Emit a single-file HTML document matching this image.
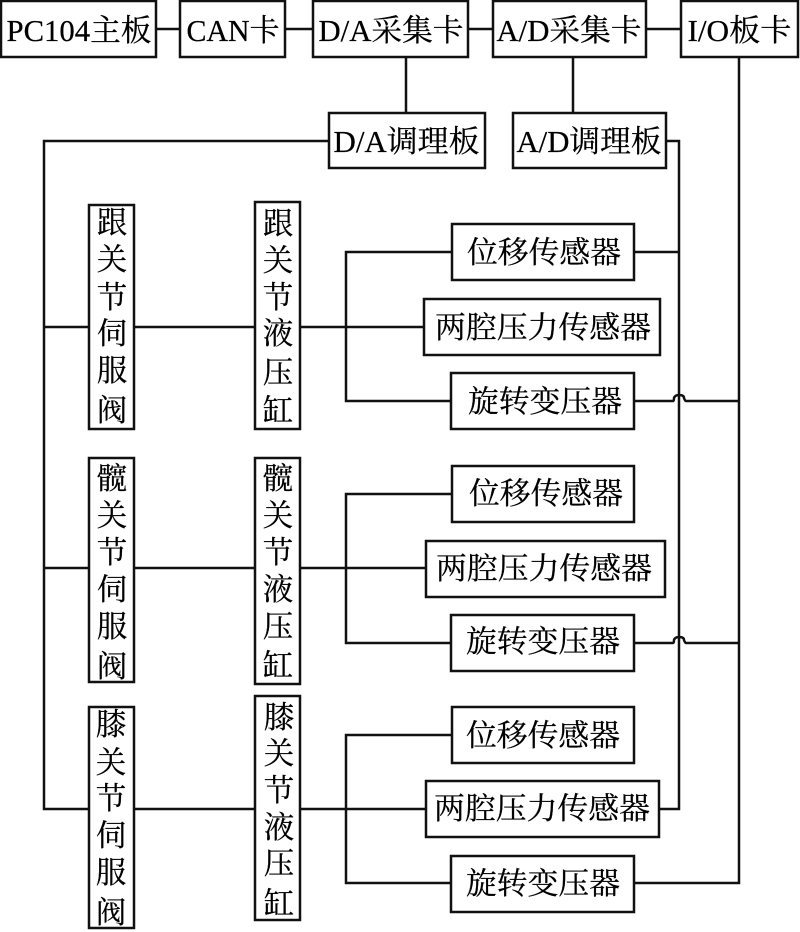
<!DOCTYPE html>
<html>
<head>
<meta charset="utf-8">
<style>
html,body{margin:0;padding:0;background:#fff;}
svg{display:block;}
text{font-family:"Liberation Serif","Noto Serif CJK SC",serif;font-size:30.5px;fill:#000;stroke:#000;stroke-width:.25;}
.c{text-anchor:middle;}
rect{fill:#fff;stroke:#111;stroke-width:2.5;}
.l{fill:none;stroke:#111;stroke-width:2.5;}
</style>
</head>
<body>
<svg width="800" height="932" viewBox="0 0 800 932" xmlns="http://www.w3.org/2000/svg">
<!-- connectors -->
<path class="l" d="M156 29H180M285 29H313M468 29H493M646 29H681"/>
<path class="l" d="M406 57V113M573 57V113"/>
<path class="l" d="M329 141H44V809H89M44 327H89M44 568H89"/>
<path class="l" d="M666 141H679V809H659M634 252H679"/>
<path class="l" d="M739 57V883H634"/>
<path class="l" d="M134 327H255M300 327H424M134 568H255M300 568H426M134 809H255M300 809H426"/>
<path class="l" d="M452 252H346V401H451M452 494H346V643H451M452 735H346V883H451"/>
<path class="l" d="M634 401H673Q674 401 674 398Q675 395 679 395Q684 395 684 398Q685 401 686 401H739"/>
<path class="l" d="M634 643H673Q674 643 674 640Q675 637 679 637Q684 637 684 640Q685 643 686 643H739"/>
<!-- top boxes -->
<rect x="1" y="1" width="155" height="56"/>
<rect x="180" y="1" width="105" height="56"/>
<rect x="313" y="1" width="155" height="56"/>
<rect x="493" y="1" width="153" height="56"/>
<rect x="681" y="1" width="117" height="56"/>
<rect x="329" y="113" width="156" height="55"/>
<rect x="513" y="113" width="153" height="55"/>
<text x="6.5" y="41" textLength="145" lengthAdjust="spacingAndGlyphs">PC104主板</text>
<text x="186.5" y="41" textLength="93" lengthAdjust="spacingAndGlyphs">CAN卡</text>
<text x="318.5" y="41" textLength="145" lengthAdjust="spacingAndGlyphs">D/A采集卡</text>
<text x="496.5" y="41" textLength="145" lengthAdjust="spacingAndGlyphs">A/D采集卡</text>
<text x="687.5" y="41" textLength="104" lengthAdjust="spacingAndGlyphs">I/O板卡</text>
<text x="333.5" y="152" textLength="146" lengthAdjust="spacingAndGlyphs">D/A调理板</text>
<text x="516.5" y="152" textLength="145" lengthAdjust="spacingAndGlyphs">A/D调理板</text>
<!-- sensors 1 -->
<rect x="452" y="224" width="182" height="56"/>
<rect x="424" y="299" width="236" height="56"/>
<rect x="451" y="373" width="183" height="56"/>
<text x="467" y="263" textLength="154" lengthAdjust="spacingAndGlyphs">位移传感器</text>
<text x="435" y="338" textLength="216" lengthAdjust="spacingAndGlyphs">两腔压力传感器</text>
<text x="468" y="412" textLength="154" lengthAdjust="spacingAndGlyphs">旋转变压器</text>
<!-- sensors 2 -->
<rect x="452" y="466" width="182" height="56"/>
<rect x="426" y="541" width="239" height="56"/>
<rect x="451" y="615" width="183" height="56"/>
<text x="469" y="504" textLength="154" lengthAdjust="spacingAndGlyphs">位移传感器</text>
<text x="436" y="579" textLength="216" lengthAdjust="spacingAndGlyphs">两腔压力传感器</text>
<text x="466" y="652" textLength="154" lengthAdjust="spacingAndGlyphs">旋转变压器</text>
<!-- sensors 3 -->
<rect x="452" y="707" width="182" height="56"/>
<rect x="426" y="781" width="233" height="56"/>
<rect x="451" y="856" width="183" height="56"/>
<text x="466" y="746" textLength="154" lengthAdjust="spacingAndGlyphs">位移传感器</text>
<text x="434" y="819" textLength="216" lengthAdjust="spacingAndGlyphs">两腔压力传感器</text>
<text x="466" y="894" textLength="154" lengthAdjust="spacingAndGlyphs">旋转变压器</text>
<!-- valves and cylinders 1 -->
<rect x="89" y="205" width="45" height="224"/>
<rect x="255" y="202" width="45" height="227"/>
<text class="c" x="112" y="233">跟</text><text class="c" x="112" y="270">关</text><text class="c" x="112" y="308">节</text><text class="c" x="112" y="344">伺</text><text class="c" x="112" y="381">服</text><text class="c" x="112" y="421">阀</text>
<text class="c" x="278" y="234">跟</text><text class="c" x="278" y="271">关</text><text class="c" x="278" y="308">节</text><text class="c" x="278" y="344">液</text><text class="c" x="278" y="383">压</text><text class="c" x="278" y="421">缸</text>
<!-- valves and cylinders 2 -->
<rect x="89" y="458" width="45" height="224"/>
<rect x="255" y="458" width="45" height="226"/>
<text class="c" x="112" y="489">髋</text><text class="c" x="112" y="526">关</text><text class="c" x="112" y="563">节</text><text class="c" x="112" y="600">伺</text><text class="c" x="112" y="637">服</text><text class="c" x="112" y="677">阀</text>
<text class="c" x="278" y="489">髋</text><text class="c" x="278" y="526">关</text><text class="c" x="278" y="563">节</text><text class="c" x="278" y="600">液</text><text class="c" x="278" y="637">压</text><text class="c" x="278" y="676">缸</text>
<!-- valves and cylinders 3 -->
<rect x="89" y="707" width="45" height="221"/>
<rect x="255" y="696" width="45" height="224"/>
<text class="c" x="111" y="735">膝</text><text class="c" x="111" y="773">关</text><text class="c" x="111" y="809">节</text><text class="c" x="111" y="846">伺</text><text class="c" x="111" y="883">服</text><text class="c" x="111" y="923">阀</text>
<text class="c" x="279" y="728">膝</text><text class="c" x="279" y="764">关</text><text class="c" x="279" y="801">节</text><text class="c" x="279" y="838">液</text><text class="c" x="279" y="874">压</text><text class="c" x="279" y="914">缸</text>
</svg>
</body>
</html>
